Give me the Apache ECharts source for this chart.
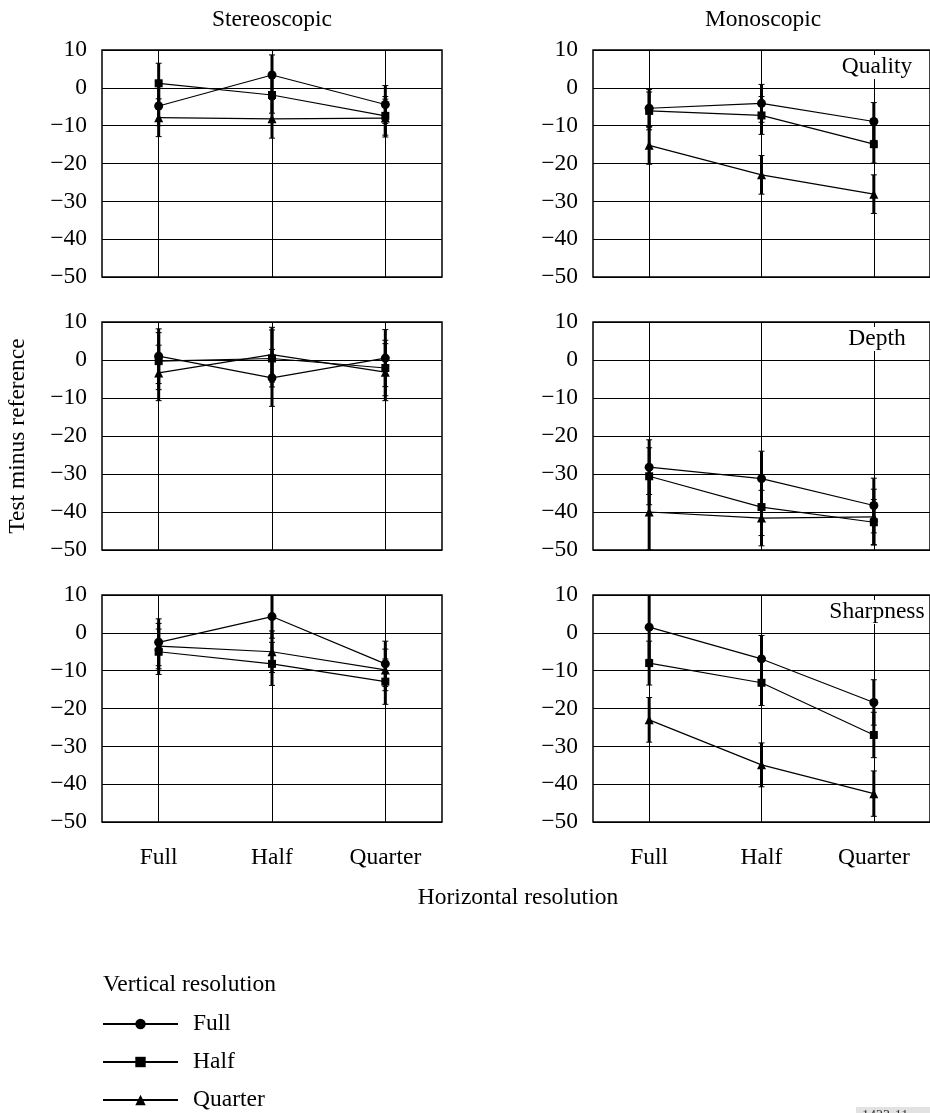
<!DOCTYPE html>
<html>
<head>
<meta charset="utf-8">
<script src="https://cdn.jsdelivr.net/npm/echarts@6/dist/echarts.min.js"></script>
<style>
html,body{margin:0;padding:0;background:#fff;}
#chart{width:930px;height:1113px;}
</style>
</head>
<body>
<div id="chart"></div>
<script>
// ---- data ----
const categories = ['Full', 'Half', 'Quarter'];
const seriesNames = ['Full', 'Half', 'Quarter'];
const yTicks = [10, 0, -10, -20, -30, -40, -50];
const columnTitles = ['Stereoscopic', 'Monoscopic'];
const panelLabels = ['Quality', 'Depth', 'Sharpness'];

// Stereoscopic – Quality
const stereoQualityFull = [-4.8, 3.4, -4.4];
const stereoQualityHalf = [1.2, -1.9, -7.4];
const stereoQualityQuarter = [-7.9, -8.2, -8.0];
const stereoQualityFullErr = [5.2, 5.3, 5.0];
const stereoQualityHalfErr = [5.3, 4.8, 5.1];
const stereoQualityQuarterErr = [5.0, 5.1, 5.0];
// Monoscopic – Quality
const monoQualityFull = [-5.4, -4.1, -8.9];
const monoQualityHalf = [-6.1, -7.3, -14.9];
const monoQualityQuarter = [-15.2, -23.0, -28.1];
const monoQualityFullErr = [5.0, 5.0, 5.0];
const monoQualityHalfErr = [5.0, 5.0, 5.0];
const monoQualityQuarterErr = [5.0, 5.1, 5.1];
// Stereoscopic – Depth
const stereoDepthFull = [1.0, -4.7, 0.5];
const stereoDepthHalf = [-0.3, 0.4, -2.1];
const stereoDepthQuarter = [-3.4, 1.4, -3.2];
const stereoDepthFullErr = [7.2, 7.5, 7.5];
const stereoDepthHalfErr = [7.5, 7.5, 7.3];
const stereoDepthQuarterErr = [7.3, 7.2, 7.5];
// Monoscopic – Depth
const monoDepthFull = [-28.2, -31.2, -38.3];
const monoDepthHalf = [-30.6, -38.7, -42.7];
const monoDepthQuarter = [-40.0, -41.6, -41.3];
const monoDepthFullErr = [7.2, 7.2, 7.2];
const monoDepthHalfErr = [7.5, 7.5, 6.0];
const monoDepthQuarterErr = [10.0, 7.3, 7.3];
// Stereoscopic – Sharpness
const stereoSharpFull = [-2.5, 4.3, -8.2];
const stereoSharpHalf = [-5.0, -8.2, -12.9];
const stereoSharpQuarter = [-3.5, -5.0, -9.8];
const stereoSharpFullErr = [6.2, 5.7, 6.0];
const stereoSharpHalfErr = [6.0, 5.7, 6.0];
const stereoSharpQuarterErr = [6.0, 5.5, 5.5];
// Monoscopic – Sharpness
const monoSharpFull = [1.5, -6.9, -18.4];
const monoSharpHalf = [-8.0, -13.2, -27.0];
const monoSharpQuarter = [-23.0, -34.9, -42.5];
const monoSharpFullErr = [8.5, 6.2, 6.0];
const monoSharpHalfErr = [5.8, 6.0, 6.0];
const monoSharpQuarterErr = [5.9, 5.8, 6.0];

// ---- layout ----
const FONT = 'Liberation Serif';
const FS = 23.5;
const colLeft = [102, 593];
const colWidth = 340;
const rowTop = [50, 322, 595];
const rowHeight = [227, 228, 227];

const panels = [
  {row:0, col:0, means:[stereoQualityFull, stereoQualityHalf, stereoQualityQuarter], errs:[stereoQualityFullErr, stereoQualityHalfErr, stereoQualityQuarterErr]},
  {row:0, col:1, means:[monoQualityFull, monoQualityHalf, monoQualityQuarter], errs:[monoQualityFullErr, monoQualityHalfErr, monoQualityQuarterErr], label: panelLabels[0]},
  {row:1, col:0, means:[stereoDepthFull, stereoDepthHalf, stereoDepthQuarter], errs:[stereoDepthFullErr, stereoDepthHalfErr, stereoDepthQuarterErr]},
  {row:1, col:1, means:[monoDepthFull, monoDepthHalf, monoDepthQuarter], errs:[monoDepthFullErr, monoDepthHalfErr, monoDepthQuarterErr], label: panelLabels[1]},
  {row:2, col:0, means:[stereoSharpFull, stereoSharpHalf, stereoSharpQuarter], errs:[stereoSharpFullErr, stereoSharpHalfErr, stereoSharpQuarterErr]},
  {row:2, col:1, means:[monoSharpFull, monoSharpHalf, monoSharpQuarter], errs:[monoSharpFullErr, monoSharpHalfErr, monoSharpQuarterErr], label: panelLabels[2]}
];

const symbols = ['circle', 'rect', 'triangle'];
const symbolSizes = [9, 8, 9];

function renderErr(params, api) {
  const x = api.value(0), lo = api.value(1), hi = api.value(2);
  const p1 = api.coord([x, hi]);
  const p2 = api.coord([x, lo]);
  const cap = 3;
  const s = {stroke: '#000', lineWidth: 1};
  return {
    type: 'group',
    children: [
      {type:'line', shape:{x1:p1[0], y1:p1[1], x2:p2[0], y2:p2[1]}, style:{stroke:'#000', lineWidth:3}},
      {type:'line', shape:{x1:p1[0]-cap, y1:p1[1], x2:p1[0]+cap, y2:p1[1]}, style:s},
      {type:'line', shape:{x1:p2[0]-cap, y1:p2[1], x2:p2[0]+cap, y2:p2[1]}, style:s}
    ]
  };
}

const grids = [], xAxes = [], yAxes = [], series = [];
panels.forEach((p, i) => {
  grids.push({left: colLeft[p.col], top: rowTop[p.row], width: colWidth, height: rowHeight[p.row],
    show: true, borderColor: '#000', borderWidth: 1.5, backgroundColor: 'transparent'});
  xAxes.push({gridIndex: i, type: 'category', data: categories, boundaryGap: true,
    axisLine: {show: false}, axisTick: {show: false}, splitLine: {show: false},
    axisLabel: {show: p.row === 2, fontFamily: FONT, fontSize: FS, color: '#000', margin: 24}});
  yAxes.push({gridIndex: i, type: 'value', min: yTicks[yTicks.length - 1], max: yTicks[0], interval: 10,
    axisLine: {show: false}, axisTick: {show: false},
    splitLine: {show: true, lineStyle: {color: '#000', width: 1}},
    axisLabel: {fontFamily: FONT, fontSize: FS, color: '#000', margin: 15,
      formatter: v => String(v).replace('-', '\u2212')}});
  // error bars
  for (let s = 0; s < 3; s++) {
    series.push({
      type: 'custom', xAxisIndex: i, yAxisIndex: i, z: 2, clip: true, silent: true,
      renderItem: renderErr,
      data: categories.map((c, k) => [k, p.means[s][k] - p.errs[s][k], p.means[s][k] + p.errs[s][k]]),
      encode: {x: 0, y: [1, 2]}
    });
  }
  // lines
  for (let s = 0; s < 3; s++) {
    const ser = {
      name: seriesNames[s], type: 'line', xAxisIndex: i, yAxisIndex: i, z: 3,
      data: p.means[s], symbol: symbols[s], symbolSize: symbolSizes[s], showSymbol: true,
      lineStyle: {color: '#000', width: 1.2}, itemStyle: {color: '#000', borderWidth: 0},
      silent: true, animation: false
    };
    if (s === 0) {
      ser.markLine = {silent: true, symbol: ['none', 'none'], label: {show: false}, animation: false,
        lineStyle: {color: '#000', width: 1, type: 'solid'},
        data: categories.map(c => ({xAxis: c}))};
    }
    series.push(ser);
  }
});

const texts = [];
columnTitles.forEach((t, c) => {
  texts.push({type:'text', x: colLeft[c] + colWidth / 2, y: 20,
    style:{text: t, font: `${FS}px "${FONT}"`, fill:'#000', textAlign:'center', textVerticalAlign:'middle'}});
});
panels.forEach(p => {
  if (p.label) {
    texts.push({type:'text', x: 877, y: rowTop[p.row] + 17, z: 10,
      style:{text: p.label, font: `${FS}px "${FONT}"`, fill:'#000', textAlign:'center', textVerticalAlign:'middle',
        backgroundColor: '#fff', padding: [0, 2]}});
  }
});
texts.push({type:'text', x: 18, y: 436, rotation: Math.PI / 2,
  style:{text: 'Test minus reference', font: `${FS}px "${FONT}"`, fill:'#000', textAlign:'center', textVerticalAlign:'middle'}});
texts.push({type:'text', x: 518, y: 898,
  style:{text: 'Horizontal resolution', font: `${FS}px "${FONT}"`, fill:'#000', textAlign:'center', textVerticalAlign:'middle'}});
texts.push({type:'text', x: 103, y: 985,
  style:{text: 'Vertical resolution', font: `${FS}px "${FONT}"`, fill:'#000', textAlign:'left', textVerticalAlign:'middle'}});
texts.push({type:'rect', shape:{x: 856, y: 1107, width: 80, height: 10}, style:{fill:'#e2e2e2'}});
texts.push({type:'text', x: 862, y: 1109,
  style:{text: '1423-11', font: `14px "${FONT}"`, fill:'#333', textAlign:'left', textVerticalAlign:'top'}});

const chart = echarts.init(document.getElementById('chart'), null, {renderer: 'canvas'});
chart.setOption({
  animation: false,
  backgroundColor: '#fff',
  grid: grids,
  xAxis: xAxes,
  yAxis: yAxes,
  series: series,
  legend: {
    data: seriesNames,
    orient: 'vertical', left: 102, top: 1012, itemGap: 14, padding: 0,
    itemWidth: 75, itemHeight: 13, height: 140,
    selectedMode: false,
    textStyle: {fontFamily: FONT, fontSize: FS, color: '#000', padding: [0, 0, 0, 10]}
  },
  graphic: texts
});
</script>
</body>
</html>
